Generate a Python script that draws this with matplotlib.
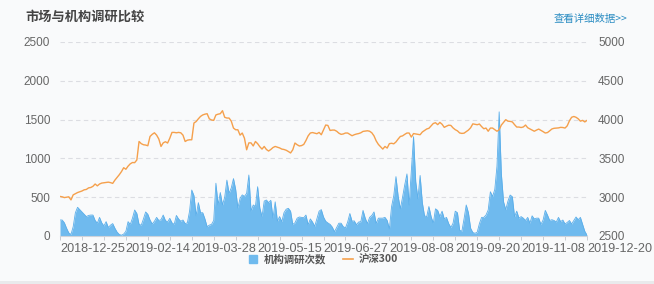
import matplotlib
matplotlib.use("Agg")
import matplotlib.pyplot as plt
from matplotlib.lines import Line2D
from matplotlib.patches import Rectangle

plt.rcParams['font.family'] = ['Liberation Sans', 'Noto Sans CJK SC', 'DejaVu Sans']

title = "市场与机构调研比较"
link_text = "查看详细数据>>"
series_names = ["机构调研次数", "沪深300"]

tick_labels = ["2018-12-25", "2019-02-14", "2019-03-28", "2019-05-15", "2019-06-27",
               "2019-08-08", "2019-09-20", "2019-11-08", "2019-12-20"]

left_ticks = [0, 500, 1000, 1500, 2000, 2500]
right_ticks = [2500, 3000, 3500, 4000, 4500, 5000]

survey_counts = [
    206, 206, 170, 100, 40, 20, 120, 300, 370, 340,
    310, 280, 250, 265, 270, 270, 200, 165, 240, 170,
    130, 185, 110, 140, 160, 100, 50, 20, 10, 25,
    60, 185, 150, 230, 335, 290, 150, 140, 220, 310,
    280, 206, 155, 190, 240, 200, 210, 270, 200, 180,
    228, 170, 150, 265, 220, 190, 206, 160, 170, 320,
    593, 520, 260, 430, 300, 300, 220, 120, 140, 150,
    200, 680, 400, 560, 400, 500, 720, 550, 620, 740,
    600, 360, 486, 530, 510, 550, 786, 320, 400, 380,
    635, 360, 250, 450, 464, 430, 460, 230, 440, 190,
    250, 185, 300, 345, 357, 320, 150, 170, 230, 245,
    240, 235, 270, 145, 220, 180, 125, 220, 320, 340,
    245, 190, 168, 150, 115, 55, 110, 165, 165, 120,
    105, 180, 290, 190, 195, 145, 180, 185, 330, 230,
    160, 240, 265, 310, 160, 230, 230, 230, 240, 200,
    90, 380, 520, 765, 510, 350, 500, 660, 800, 400,
    850, 1280, 700, 480, 780, 430, 260, 250, 380, 250,
    165, 350, 330, 250, 320, 220, 240, 160, 110, 165,
    320, 300, 75, 60, 220, 400, 300, 100, 45, 35,
    50, 160, 240, 240, 270, 335, 570, 510, 600, 900,
    1600, 800, 440, 340, 450, 528, 506, 250, 320, 230,
    250, 230, 200, 240, 165, 260, 220, 230, 230, 150,
    206, 330, 270, 200, 210, 200, 180, 240, 185, 206,
    155, 175, 200, 155, 200, 245, 210, 240, 150, 60,
    12,
]

csi300 = [
    3010, 3005, 2995, 3000, 3005, 2965, 3030, 3045, 3060, 3070,
    3080, 3095, 3100, 3120, 3125, 3140, 3170, 3146, 3170, 3182,
    3186, 3190, 3194, 3188, 3178, 3220, 3255, 3290, 3330, 3380,
    3360, 3400, 3430, 3447, 3445, 3480, 3718, 3690, 3676, 3672,
    3663, 3783, 3810, 3830, 3800, 3750, 3654, 3700, 3715, 3698,
    3760, 3835, 3835, 3830, 3835, 3830, 3800, 3718, 3735, 3740,
    3740, 3956, 3975, 4010, 4041, 4060, 4070, 4076, 4010, 3995,
    3990, 4060, 4070, 4076, 4115, 4030, 4020, 4020, 3980, 3891,
    3869, 3869, 3800, 3827, 3760, 3611, 3700, 3700, 3660, 3718,
    3690, 3650, 3620, 3654, 3615, 3595, 3615, 3640, 3654, 3645,
    3635, 3620, 3615, 3605, 3589, 3570, 3611, 3698, 3676, 3660,
    3665, 3680, 3730, 3790, 3827, 3833, 3825, 3818, 3835, 3805,
    3869, 3930, 3925, 3860, 3865, 3865, 3850, 3825, 3810, 3815,
    3827, 3827, 3810, 3792, 3805, 3814, 3820, 3830, 3848, 3852,
    3856, 3850, 3830, 3790, 3725, 3680, 3650, 3620, 3654, 3633,
    3690, 3695, 3688, 3712, 3750, 3783, 3790, 3810, 3827, 3827,
    3775, 3820, 3815, 3810, 3805, 3840, 3860, 3879, 3888, 3920,
    3950, 3960, 3935, 3964, 3940, 3900, 3915, 3928, 3925, 3893,
    3870, 3855, 3828, 3822, 3825, 3845, 3865, 3895, 3945, 3940,
    3934, 3943, 3910, 3882, 3891, 3850, 3891, 3891, 3870, 3850,
    3869, 3930, 3964, 3999, 3980, 3977, 3970, 3935, 3904, 3904,
    3898, 3905, 3930, 3895, 3880, 3866, 3850, 3865, 3878, 3862,
    3845, 3827, 3833, 3855, 3879, 3888, 3891, 3893, 3900, 3898,
    3891, 3920, 3985, 4030, 4040, 4030, 4010, 3980, 3990, 3970,
    3990,
]

BG = '#f9fafb'
BLUE = '#6fbaee'
BLUE_EDGE = '#5aaeea'
ORANGE = '#f5a04c'
GRID = '#dcdde2'
TXT = '#666666'

fig = plt.figure(figsize=(6.54, 2.84), dpi=100, facecolor=BG)
fig.patches.append(Rectangle((0, 0), 1, 3/284, transform=fig.transFigure,
                             facecolor='#e9eaec', edgecolor='none', zorder=-5))

ax = fig.add_axes([60/654, 48/284, 527/654, 194/284])
ax.set_facecolor(BG)
n = len(survey_counts)
x = list(range(n))

ax.fill_between(x, survey_counts, 0, color=BLUE, linewidth=0, zorder=2)
ax.plot(x, survey_counts, color=BLUE_EDGE, linewidth=0.6, zorder=3)
ax.set_xlim(0, n - 1)
ax.set_ylim(0, 2500)
ax.set_yticks(left_ticks)
ax.grid(axis='y', color=GRID, linestyle=(0, (4, 3)), linewidth=0.8, zorder=0)
ax.set_axisbelow(True)

ax2 = ax.twinx()
ax2.plot(x, csi300, color=ORANGE, linewidth=1.0, zorder=4)
ax2.set_ylim(2500, 5000)
ax2.set_yticks(right_ticks)

for a in (ax, ax2):
    for s in a.spines.values():
        s.set_visible(False)
ax.spines['bottom'].set_visible(True)
ax.spines['bottom'].set_color('#cfd3da')
ax.spines['bottom'].set_linewidth(0.8)

ax.tick_params(axis='y', length=0, pad=7, labelsize=8.5, labelcolor=TXT)
ax2.tick_params(axis='y', length=0, pad=8, labelsize=8.5, labelcolor=TXT)

major = list(range(0, n, 30))
minor = list(range(0, n, 10))
ax.set_xticks(major)
ax.set_xticks(minor, minor=True)
ax.set_xticklabels(tick_labels[:len(major)], ha='left')
ax.tick_params(axis='x', which='both', length=3, color='#c8ccd3', width=0.7,
               pad=2, labelsize=9.1, labelcolor=TXT)

fig.text(25/654, 1 - 17/284, title, fontsize=9.5, fontweight='bold', color='#444444',
         va='center', ha='left', family=['Noto Sans CJK SC', 'DejaVu Sans'])
fig.text(627/654, 1 - 19/284, link_text, fontsize=7.5, color='#2a8cc2',
         va='center', ha='right', family=['Noto Sans CJK SC', 'DejaVu Sans'])

handles = [Line2D([0], [0], marker='s', linestyle='none', markersize=6,
                  markerfacecolor=BLUE, markeredgecolor=BLUE),
           Line2D([0], [0], color=ORANGE, linewidth=1.2)]
leg = fig.legend(handles, series_names, loc='center', bbox_to_anchor=(323/654, 1 - 259/284),
                 ncol=2, frameon=False, handlelength=1.0, handletextpad=0.5,
                 columnspacing=1.6, prop={'family': ['Noto Sans CJK SC', 'DejaVu Sans'],
                                          'weight': 'bold', 'size': 7.5})
for t in leg.get_texts():
    t.set_color('#555555')

fig.savefig('out.png', dpi=100, facecolor=BG)
